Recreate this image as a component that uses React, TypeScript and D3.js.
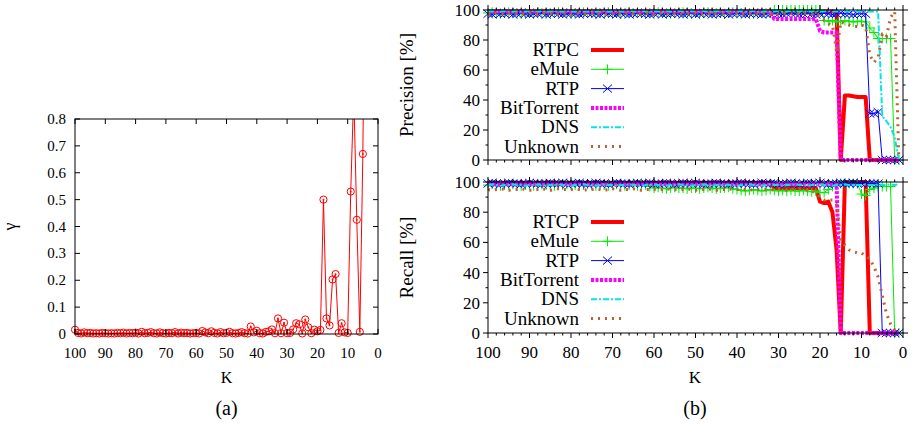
import React from 'react';
import * as d3 from 'd3';

const FONT = 'Liberation Serif, DejaVu Serif, serif';

// (a) gamma as a function of K (K = 100 .. 4)
const K_GAMMA = d3.range(100, 3, -1);
const GAMMA = [
  0.016, 0.004, 0.002, 0.006, 0.003, 0.004, 0.002, 0.003, 0.002, 0.004,
  0.003, 0.002, 0.003, 0.002, 0.004, 0.003, 0.005, 0.002, 0.004, 0.003,
  0.005, 0.002, 0.008, 0.003, 0.004, 0.007, 0.003, 0.002, 0.006, 0.003,
  0.002, 0.004, 0.003, 0.007, 0.002, 0.005, 0.003, 0.004, 0.002, 0.003,
  0.004, 0.002, 0.011, 0.006, 0.003, 0.010, 0.004, 0.002, 0.007, 0.003,
  0.004, 0.008, 0.003, 0.002, 0.004, 0.007, 0.003, 0.002, 0.028, 0.006,
  0.012, 0.003, 0.002, 0.008, 0.010, 0.017, 0.003, 0.058, 0.003, 0.042,
  0.003, 0.004, 0.017, 0.040, 0.036, 0.002, 0.054, 0.025, 0.003, 0.016,
  0.010, 0.015, 0.500, 0.058, 0.032, 0.203, 0.223, 0.004, 0.040, 0.006,
  0.004, 0.530, 0.900, 0.425, 0.008, 0.670, 1.800,
];
const GAMMA_TICKS = [0, 0.1, 0.2, 0.3, 0.4, 0.5, 0.6, 0.7, 0.8];

// (b) precision and recall [%] per protocol (K = 100 .. 1)
const K_PR = d3.range(100, 0, -1);
const K_TICKS = [100, 90, 80, 70, 60, 50, 40, 30, 20, 10, 0];
const PCT_TICKS = [0, 20, 40, 60, 80, 100];

const PREC_RTPC = [
  99, 99, 99, 99, 99, 99, 99, 99, 99, 99,
  99, 99, 99, 99, 99, 99, 99, 99, 99, 99,
  99, 99, 99, 99, 99, 99, 99, 99, 99, 99,
  99, 99, 99, 99, 99, 99, 99, 99, 99, 99,
  99, 99, 99, 99, 99, 99, 99, 99, 99, 99,
  99, 99, 99, 99, 99, 99, 99, 99, 99, 99,
  99, 99, 99, 99, 99, 99, 99, 99, 99, 99,
  99, 99, 99, 99, 99, 99, 99, 99, 99, 99,
  99, 99, 99, 99, 99, 0, 43, 43, 42.5, 42,
  42, 42, 0, 0, 0, 0, 0, 0, 0, 0,
];
const PREC_EMULE = [
  98, 98.5, 98, 97.5, 98, 98.5, 98, 98, 97.5, 98,
  98, 98, 98.5, 98, 97.5, 98, 98, 98.5, 98, 98,
  97.5, 98, 98, 98.5, 98, 98, 97.5, 98, 98, 98.5,
  98, 98, 97.5, 98, 98.5, 98, 98, 98, 97.5, 98,
  98, 98.5, 98, 98, 97.5, 98, 98, 98.5, 98, 98,
  98, 97.5, 98, 98.5, 98, 98, 98, 97.5, 98, 98.5,
  98, 98, 98.5, 98, 97.5, 98, 98, 98, 98, 100,
  100, 100, 100, 100, 100, 100, 100, 100, 100, 100,
  100, 93, 92.5, 93, 92, 92.5, 93, 92.5, 92, 92.5,
  92.5, 92, 88, 85, 81, 81, 81, 81, 0, 0,
];
const PREC_RTP = [
  97.5, 97, 98, 97.5, 97.5, 98, 97, 97.5, 98, 97.5,
  97, 97.5, 97.5, 98, 97, 97.5, 98, 97.5, 97, 97.5,
  98, 97.5, 97, 97.5, 98, 97.5, 97.5, 97, 98, 97.5,
  97.5, 97, 98, 97.5, 97, 97.5, 98, 97.5, 97.5, 97,
  97.5, 98, 97, 97.5, 97.5, 98, 97.5, 97, 97.5, 98,
  97, 97.5, 98, 97.5, 97, 97.5, 97.5, 98, 97, 97.5,
  98, 97.5, 97, 97.5, 98, 97.5, 97, 97.5, 97.5, 98,
  97.5, 97, 97.5, 98, 97.5, 97, 97.5, 98, 97.5, 97,
  97.5, 98, 97.5, 97, 97.5, 98, 97.5, 97.5, 97, 97.5,
  97.5, 97.5, 31, 31, 32, 0, 0, 0, 0, 0,
];
const PREC_BT = [
  99, 99, 99, 99, 99, 99, 99, 99, 99, 99,
  99, 99, 99, 99, 99, 99, 99, 99, 99, 99,
  99, 99, 99, 99, 99, 99, 99, 99, 99, 99,
  99, 99, 99, 99, 99, 99, 99, 99, 99, 99,
  99, 99, 99, 99, 99, 99, 99, 99, 99, 99,
  99, 99, 99, 99, 99, 99, 99, 99, 99, 99,
  99, 99, 99, 99, 99, 99, 99, 99, 99, 94,
  94, 94, 94, 94, 94, 94, 94, 94, 94, 94,
  86, 85, 85, 85, 85, 0, 0, 0, 0, 0,
  0, 0, 0, 0, 0, 0, 0, 0, 0, 0,
];
const PREC_DNS = [
  99, 99.5, 99, 99, 99.5, 99, 99, 99.5, 99, 99,
  99.5, 99, 99, 99.5, 99, 99, 99.5, 99, 99, 99.5,
  99, 99, 99.5, 99, 99, 99.5, 99, 99, 99.5, 99,
  99, 99.5, 99, 99, 99.5, 99, 99, 99.5, 99, 99,
  99.5, 99, 99, 99.5, 99, 99, 99.5, 99, 99, 99.5,
  99, 99, 99.5, 99, 99, 99.5, 99, 99, 99.5, 99,
  99, 99.5, 99, 99, 99.5, 99, 99, 99.5, 99, 99,
  99.5, 99, 99, 99.5, 99, 99, 99.5, 99, 99, 99.5,
  99, 99, 99.5, 99, 99, 99.5, 99, 99, 99.5, 99,
  99, 99, 99, 99, 99, 29, 26, 22, 15, 0,
];
const PREC_UNK = [
  97.5, 97, 98, 97.5, 97, 97.5, 98, 97.5, 97, 97.5,
  98, 97.5, 97, 97.5, 98, 97.5, 97.5, 97, 98, 97.5,
  97, 97.5, 98, 97.5, 97, 97.5, 98, 97.5, 97, 97.5,
  97.5, 98, 97, 97.5, 98, 97.5, 97, 97.5, 98, 97.5,
  97, 97.5, 98, 97.5, 97, 97.5, 98, 97.5, 97.5, 97,
  98, 97.5, 97, 97.5, 98, 97.5, 97, 97.5, 98, 97.5,
  97.5, 97, 98, 97.5, 97, 97.5, 98, 97.5, 97, 97.5,
  97, 97.5, 98, 97.5, 97, 97.5, 98, 97.5, 97, 97.5,
  96, 93, 91, 90, 72, 92, 91, 90, 89, 89,
  90, 89, 70, 65, 68, 84, 82, 95, 99, 0,
];

const REC_RTCP = [
  99.5, 99.5, 99.5, 99.5, 99.5, 99.5, 99.5, 99.5, 99.5, 99.5,
  99.5, 99.5, 99.5, 99.5, 99.5, 99.5, 99.5, 99.5, 99.5, 99.5,
  99.5, 99.5, 99.5, 99.5, 99.5, 99.5, 99.5, 99.5, 99.5, 99.5,
  99.5, 99.5, 99.5, 99.5, 99.5, 99.5, 99.5, 99.5, 99.5, 99.5,
  99.5, 99.5, 99.5, 99.5, 99.5, 99.5, 99.5, 99.5, 99.5, 99.5,
  99.5, 99.5, 99.5, 99.5, 99.5, 99.5, 99.5, 99.5, 99.5, 99.5,
  99.5, 99.5, 99.5, 99.5, 99.5, 99.5, 99.5, 99.5, 99.5, 96,
  96, 96, 96, 96, 96, 96, 96, 96, 96, 96,
  87, 86, 87, 80, 55, 0, 100, 100, 100, 100,
  100, 100, 0, 0, 0, 0, 0, 0, 0, 0,
];
const REC_EMULE = [
  98, 98.5, 98, 97.5, 98, 98, 98.5, 98, 97.5, 98,
  98, 97.5, 98, 98.5, 98, 98, 97.5, 98, 98, 98.5,
  98, 98, 97.5, 98, 98.5, 98, 97.5, 98, 98, 97.5,
  98, 98.5, 98, 97.5, 98, 98, 97.5, 98, 98, 97,
  96, 96.5, 96, 95.5, 96, 96.5, 96, 96, 95.5, 96,
  96, 95.5, 96, 96.5, 96, 95.5, 96, 96, 96.5, 95.5,
  95, 94.5, 94, 94.5, 95, 94.5, 94, 94.5, 95, 94.5,
  94, 94.5, 94, 94.5, 94, 94, 94.5, 94, 93.5, 94,
  93, 93, 95, 97, 98, 99, 99, 99, 99, 99,
  92, 91, 95, 96, 97, 97, 97, 97, 0, 0,
];
const REC_RTP = [
  99, 99.5, 99, 98.5, 99, 99.5, 99, 99, 98.5, 99,
  99.5, 99, 99, 98.5, 99, 99.5, 99, 99, 99.5, 98.5,
  99, 99, 99.5, 99, 98.5, 99, 99.5, 99, 99, 98.5,
  99, 99.5, 99, 99, 98.5, 99, 99.5, 99, 99, 99.5,
  98.5, 99, 99, 99.5, 99, 98.5, 99, 99.5, 99, 99,
  99.5, 99, 98.5, 99, 99, 99.5, 99, 99, 98.5, 99,
  99, 99.5, 99, 99, 98.5, 99, 99.5, 99, 99, 99.5,
  98.5, 99, 99, 99.5, 99, 98.5, 99, 99.5, 99, 99,
  99.5, 99, 98.5, 99, 99, 99.5, 99, 99, 99.5, 99,
  99, 99, 99, 99, 99, 0, 0, 0, 0, 0,
];
const REC_BT = [
  98.5, 98.5, 98.5, 98.5, 98.5, 98.5, 98.5, 98.5, 98.5, 98.5,
  98.5, 98.5, 98.5, 98.5, 98.5, 98.5, 98.5, 98.5, 98.5, 98.5,
  98.5, 98.5, 98.5, 98.5, 98.5, 98.5, 98.5, 98.5, 98.5, 98.5,
  98.5, 98.5, 98.5, 98.5, 98.5, 98.5, 98.5, 98.5, 98.5, 98.5,
  98.5, 98.5, 98.5, 98.5, 98.5, 98.5, 98.5, 98.5, 98.5, 98.5,
  98.5, 98.5, 98.5, 98.5, 98.5, 98.5, 98.5, 98.5, 98.5, 98.5,
  98.5, 98.5, 98.5, 98.5, 98.5, 98.5, 98.5, 98.5, 98.5, 98.5,
  98.5, 98.5, 98.5, 98.5, 98.5, 98.5, 98.5, 98.5, 98.5, 98.5,
  98.5, 98.5, 98.5, 98.5, 98.5, 0, 0, 0, 0, 0,
  0, 0, 0, 0, 0, 0, 0, 0, 0, 0,
];
const REC_DNS = [
  98, 98.5, 98, 97.5, 98, 98, 98.5, 98, 98, 97.5,
  98, 98, 98.5, 98, 97.5, 98, 98, 98.5, 98, 98,
  97.5, 98, 98, 98.5, 98, 98, 97.5, 98, 98.5, 98,
  98, 97.5, 98, 98, 98.5, 98, 98, 97.5, 98, 98,
  98.5, 98, 98, 97.5, 98, 98, 98.5, 98, 98, 97.5,
  98, 98, 98.5, 98, 97.5, 98, 98, 98.5, 98, 98,
  97.5, 98, 98, 98.5, 98, 98, 97.5, 98, 98.5, 98,
  98, 97.5, 98, 98, 98.5, 98, 98, 97.5, 98, 98,
  98.5, 98, 98, 97.5, 98, 98, 98.5, 98, 98, 98,
  98, 98.5, 98, 98, 98.5, 98, 98, 98.5, 98, 98.5,
];
const REC_UNK = [
  95, 94.5, 95, 95.5, 95, 94.5, 95, 95, 95.5, 95,
  94.5, 95, 95, 95.5, 95, 94.5, 95, 95.5, 95, 95,
  95, 95.5, 95, 94.5, 95, 95, 95.5, 95, 94.5, 95,
  95.5, 95, 94.5, 95, 95, 95.5, 95, 94.5, 95, 95,
  95, 94.5, 95, 95.5, 95, 95, 94.5, 95, 95.5, 95,
  94.5, 95, 95, 95.5, 95, 94.5, 95, 95, 95.5, 95,
  95, 95.5, 95, 94.5, 95, 95, 95.5, 95, 94.5, 95,
  95.5, 95, 94.5, 95, 95, 95.5, 95, 94.5, 94, 93,
  90, 88, 88, 88, 85, 62, 58, 55, 54, 53,
  53, 51, 49, 44, 37, 25, 13, 6, 2, 0,
];

const STYLES = [
  { color: '#ff0000', width: 4, dash: null, marker: null },
  { color: '#00ee00', width: 1, dash: null, marker: 'plus' },
  { color: '#0000ff', width: 1, dash: null, marker: 'cross' },
  { color: '#ff00ff', width: 4, dash: '3 1.5', marker: null },
  { color: '#00e5e5', width: 2, dash: '6 2 2 2', marker: null },
  { color: '#c0602a', width: 3, dash: '2 5', marker: null },
];

const PREC_NAMES = ['RTPC', 'eMule', 'RTP', 'BitTorrent', 'DNS', 'Unknown'];
const REC_NAMES = ['RTCP', 'eMule', 'RTP', 'BitTorrent', 'DNS', 'Unknown'];

const markerPath = (type, cx, cy) => {
  if (type === 'plus') return `M${cx - 5},${cy}H${cx + 5}M${cx},${cy - 5}V${cy + 5}`;
  return `M${cx - 4.5},${cy - 4}L${cx + 4.5},${cy + 4}M${cx - 4.5},${cy + 4}L${cx + 4.5},${cy - 4}`;
};

const GammaChart = () => {
  const x = d3.scaleLinear().domain([100, 0]).range([75, 378]);
  const y = d3.scaleLinear().domain([0, 0.8]).range([334, 119]);
  const pts = K_GAMMA.map((k, i) => [k, GAMMA[i]]);
  const line = d3.line().x(d => x(d[0])).y(d => y(d[1]));
  const [x0, x1] = x.range();
  const [y0, y1] = y.range();
  return (
    <g>
      <clipPath id="clip-a">
        <rect x={x0} y={y1} width={x1 - x0} height={y0 - y1} />
      </clipPath>
      <path d={line(pts)} fill="none" stroke="#ff0000" strokeWidth={1} clipPath="url(#clip-a)" />
      {pts.filter(d => d[1] <= 0.8).map((d, i) => (
        <g key={i}>
          <circle cx={x(d[0])} cy={y(d[1])} r={3.6} fill="none" stroke="#ff0000" strokeWidth={1} />
          <circle cx={x(d[0])} cy={y(d[1])} r={0.9} fill="#ff0000" />
        </g>
      ))}
      <rect x={x0} y={y1} width={x1 - x0} height={y0 - y1} fill="none" stroke="#000" strokeWidth={1} />
      {K_TICKS.map(t => (
        <g key={'x' + t}>
          <line x1={x(t)} x2={x(t)} y1={y0} y2={y0 - 5} stroke="#000" />
          <line x1={x(t)} x2={x(t)} y1={y1} y2={y1 + 5} stroke="#000" />
          <text x={x(t)} y={358} textAnchor="middle" fontSize={15}>{t}</text>
        </g>
      ))}
      {GAMMA_TICKS.map(t => (
        <g key={'y' + t}>
          <line x1={x0} x2={x0 + 5} y1={y(t)} y2={y(t)} stroke="#000" />
          <line x1={x1} x2={x1 - 5} y1={y(t)} y2={y(t)} stroke="#000" />
          <text x={x0 - 9} y={y(t) + 5} textAnchor="end" fontSize={15}>{t === 0 ? '0' : t.toFixed(1)}</text>
        </g>
      ))}
      <text transform={`translate(16,${(y0 + y1) / 2}) rotate(-90)`} textAnchor="middle" fontSize={18}>γ</text>
      <text x={(x0 + x1) / 2} y={383} textAnchor="middle" fontSize={16}>K</text>
      <text x={(x0 + x1) / 2} y={415} textAnchor="middle" fontSize={20}>(a)</text>
    </g>
  );
};

const PrPanel = ({ top, bottom, data, names, title, id, xLabels }) => {
  const x = d3.scaleLinear().domain([100, 0]).range([488, 903]);
  const y = d3.scaleLinear().domain([0, 100]).range([bottom, top]);
  const [x0, x1] = x.range();
  const line = d3.line().x((d, i) => x(K_PR[i])).y(d => y(d));
  const minorX = d3.range(0, 101, 2).filter(t => t % 10 !== 0);
  const minorY = [10, 30, 50, 70, 90];
  const legY = top + 40;
  return (
    <g>
      {data.map((vals, s) => {
        const st = STYLES[s];
        return (
          <g key={id + s}>
            <path d={line(vals)} fill="none" stroke={st.color} strokeWidth={st.width}
              strokeDasharray={st.dash || undefined} strokeLinejoin="round" />
            {st.marker && vals.map((v, i) => (
              <path key={i} d={markerPath(st.marker, x(K_PR[i]), y(v))} stroke={st.color} strokeWidth={1} fill="none" />
            ))}
          </g>
        );
      })}
      {names.map((n, s) => {
        const st = STYLES[s];
        const ly = legY + s * 19.3;
        return (
          <g key={'leg' + s}>
            <text x={579} y={ly + 6} textAnchor="end" fontSize={19}>{n}</text>
            <line x1={591} x2={624} y1={ly} y2={ly} stroke={st.color} strokeWidth={st.width}
              strokeDasharray={st.dash || undefined} />
            {st.marker && <path d={markerPath(st.marker, 607.5, ly)} stroke={st.color} strokeWidth={1} fill="none" />}
          </g>
        );
      })}
      <rect x={x0} y={top} width={x1 - x0} height={bottom - top} fill="none" stroke="#000" strokeWidth={1} />
      {K_TICKS.map(t => (
        <g key={'x' + t}>
          <line x1={x(t)} x2={x(t)} y1={bottom} y2={bottom + 5} stroke="#000" />
          <line x1={x(t)} x2={x(t)} y1={top} y2={top - 5} stroke="#000" />
          {xLabels && <text x={x(t)} y={358} textAnchor="middle" fontSize={17}>{t}</text>}
        </g>
      ))}
      {minorX.map(t => (
        <g key={'mx' + t}>
          <line x1={x(t)} x2={x(t)} y1={bottom} y2={bottom + 2.5} stroke="#000" />
          <line x1={x(t)} x2={x(t)} y1={top} y2={top - 2.5} stroke="#000" />
        </g>
      ))}
      {PCT_TICKS.map(t => (
        <g key={'y' + t}>
          <line x1={x0} x2={x0 - 5} y1={y(t)} y2={y(t)} stroke="#000" />
          <line x1={x1} x2={x1 + 5} y1={y(t)} y2={y(t)} stroke="#000" />
          <text x={480} y={y(t) + 6} textAnchor="end" fontSize={17}>{t}</text>
        </g>
      ))}
      {minorY.map(t => (
        <g key={'my' + t}>
          <line x1={x0} x2={x0 - 2.5} y1={y(t)} y2={y(t)} stroke="#000" />
          <line x1={x1} x2={x1 + 2.5} y1={y(t)} y2={y(t)} stroke="#000" />
        </g>
      ))}
      <text transform={`translate(413,${(top + bottom) / 2}) rotate(-90)`} textAnchor="middle" fontSize={19}>{title}</text>
    </g>
  );
};

export default function App() {
  return (
    <svg width={918} height={431} viewBox="0 0 918 431"
      style={{ position: 'absolute', left: 0, top: 0, background: '#fff' }}>
      <rect width={918} height={431} fill="#fff" />
      <g fontFamily={FONT} fill="#000">
        <GammaChart />
        <PrPanel id="p" top={10} bottom={160} title="Precision [%]" names={PREC_NAMES} xLabels={false}
          data={[PREC_RTPC, PREC_EMULE, PREC_RTP, PREC_BT, PREC_DNS, PREC_UNK]} />
        <PrPanel id="r" top={182} bottom={333} title="Recall [%]" names={REC_NAMES} xLabels={true}
          data={[REC_RTCP, REC_EMULE, REC_RTP, REC_BT, REC_DNS, REC_UNK]} />
        <text x={695} y={383} textAnchor="middle" fontSize={17}>K</text>
        <text x={695} y={415} textAnchor="middle" fontSize={20}>(b)</text>
      </g>
    </svg>
  );
}
